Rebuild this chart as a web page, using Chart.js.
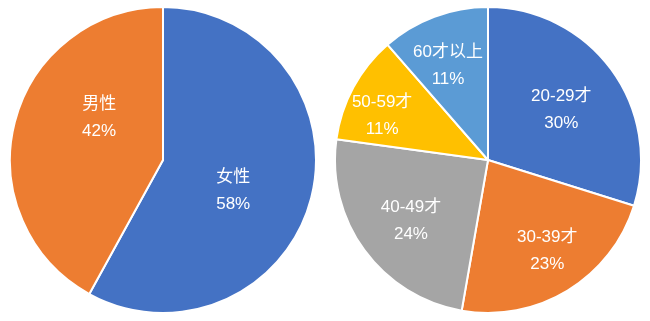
<!DOCTYPE html>
<html>
<head>
<meta charset="utf-8">
<script src="https://cdn.jsdelivr.net/npm/chart.js@4/dist/chart.umd.min.js"></script>
<style>
  html, body { margin: 0; padding: 0; background: #ffffff; }
  #wrap { position: relative; width: 650px; height: 321px; overflow: hidden; }
  canvas { position: absolute; }
  #c1 { left: 9px; top: 6px; }
  #c2 { left: 334px; top: 6px; }
</style>
</head>
<body>
<div id="wrap">
  <canvas id="c1" width="308" height="308"></canvas>
  <canvas id="c2" width="308" height="308"></canvas>
</div>
<script>
// ---- data ----
const genderLabels = ['女性', '男性'];
const genderValues = [58, 42];
const genderColors = ['#4472C4', '#ED7D31'];

const ageLabels = ['20-29才', '30-39才', '40-49才', '50-59才', '60才以上'];
const ageValues = [29.8, 22.9, 24.4, 11.4, 11.4];
const ageColors = ['#4472C4', '#ED7D31', '#A5A5A5', '#FFC000', '#5B9BD5'];

// ---- label placement (fraction of radius, angle shift in degrees from slice middle) ----
const genderLabelPlace = [[0.5, 9], [0.5, 19]];
const ageLabelPlace = [[0.58, 2], [0.71, -1.7], [0.64, -2], [0.75, -5.7], [0.67, -2.4]];

const FONT = '17px "Liberation Sans", Arial, "Noto Sans CJK SC", sans-serif';

function labelPlugin(place) {
  return {
    id: 'sliceLabels',
    afterDatasetsDraw(chart) {
      const ctx = chart.ctx;
      const meta = chart.getDatasetMeta(0);
      const data = chart.data.datasets[0].data;
      const total = data.reduce((a, b) => a + b, 0);
      ctx.save();
      ctx.font = FONT;
      ctx.fillStyle = '#ffffff';
      ctx.textAlign = 'center';
      ctx.textBaseline = 'middle';
      meta.data.forEach((arc, i) => {
        const p = arc.getProps(['x', 'y', 'startAngle', 'endAngle', 'outerRadius'], true);
        const mid = (p.startAngle + p.endAngle) / 2 + place[i][1] * Math.PI / 180;
        const r = p.outerRadius * place[i][0];
        const cx = p.x + Math.cos(mid) * r;
        const cy = p.y + Math.sin(mid) * r;
        const pct = Math.round(data[i] / total * 100) + '%';
        ctx.fillText(chart.data.labels[i], cx, cy - 13.5);
        ctx.fillText(pct, cx, cy + 13.5);
      });
      ctx.restore();
    }
  };
}

function makePie(id, labels, values, colors, place) {
  return new Chart(document.getElementById(id), {
    type: 'pie',
    data: {
      labels: labels,
      datasets: [{
        data: values,
        backgroundColor: colors,
        borderColor: '#ffffff',
        borderWidth: 2
      }]
    },
    options: {
      responsive: false,
      animation: false,
      layout: { padding: 0 },
      plugins: {
        legend: { display: false },
        tooltip: { enabled: false }
      }
    },
    plugins: [labelPlugin(place)]
  });
}

makePie('c1', genderLabels, genderValues, genderColors, genderLabelPlace);
makePie('c2', ageLabels, ageValues, ageColors, ageLabelPlace);
</script>
</body>
</html>
